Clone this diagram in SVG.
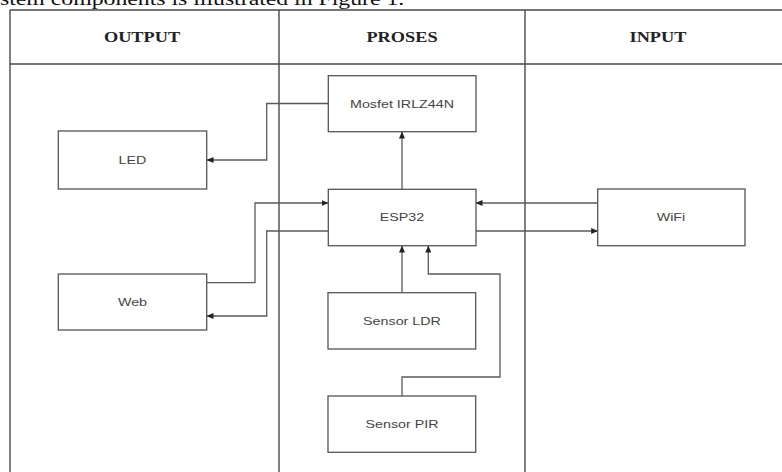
<svg xmlns="http://www.w3.org/2000/svg" width="782" height="472" viewBox="0 0 782 472">
<style>
.tbl{stroke:#4a4a4a;stroke-width:1.4;fill:none}
.box{fill:#fff;stroke:#555;stroke-width:1.3}
.con{fill:none;stroke:#5a5a5a;stroke-width:1.3}
.lbl{font-family:"Liberation Sans",Arial,sans-serif;font-size:11px;fill:#444;text-anchor:middle}
.hdr{font-family:"Liberation Serif","Times New Roman",serif;font-size:15px;font-weight:bold;fill:#222;text-anchor:middle}
.cap{font-family:"Liberation Serif","Times New Roman",serif;font-size:19px;fill:#111}
</style>
<defs>
<marker id="ah" markerWidth="7" markerHeight="6" refX="6.5" refY="3" orient="auto" markerUnits="userSpaceOnUse">
<path d="M0,0 L7,3 L0,6 Z" fill="#222"/>
</marker>
</defs>
<rect width="782" height="472" fill="#fff"/>
<text class="cap" transform="translate(0,5) scale(1.25,1)">stem components is illustrated in Figure 1.</text>
<g id="table">
<path class="tbl" d="M10,10 H782 M10,64 H782 M10,10 V472 M279,10 V472 M525,10 V472"/>
<text class="hdr" transform="translate(142,42) scale(1.22,1)">OUTPUT</text>
<text class="hdr" transform="translate(402,42) scale(1.22,1)">PROSES</text>
<text class="hdr" transform="translate(658,42) scale(1.22,1)">INPUT</text>
</g>
<g id="connectors">
<path class="con" marker-end="url(#ah)" d="M328,103.5 H266.7 V160 H207"/>
<path class="con" marker-end="url(#ah)" d="M402,189 V132"/>
<path class="con" marker-end="url(#ah)" d="M207,282.7 H255 V203 H328"/>
<path class="con" marker-end="url(#ah)" d="M328,231 H266.7 V316 H207"/>
<path class="con" marker-end="url(#ah)" d="M402,292.7 V246"/>
<path class="con" marker-end="url(#ah)" d="M402,396 V377 H500 V274 H428.3 V246"/>
<path class="con" marker-end="url(#ah)" d="M597.7,203 H476"/>
<path class="con" marker-end="url(#ah)" d="M476,231 H597.7"/>
</g>
<g id="mosfet">
<rect class="box" x="328.3" y="75.7" width="147.7" height="56"/>
<text class="lbl" transform="translate(402,107.5) scale(1.3,1)">Mosfet IRLZ44N</text>
</g>
<g id="led">
<rect class="box" x="58.3" y="131" width="148.4" height="58"/>
<text class="lbl" transform="translate(132.5,164) scale(1.3,1)">LED</text>
</g>
<g id="esp32">
<rect class="box" x="328.3" y="189.3" width="147.7" height="56.4"/>
<text class="lbl" transform="translate(402,221) scale(1.3,1)">ESP32</text>
</g>
<g id="wifi">
<rect class="box" x="597.7" y="189" width="147.3" height="56.7"/>
<text class="lbl" transform="translate(671,221) scale(1.3,1)">WiFi</text>
</g>
<g id="web">
<rect class="box" x="58.3" y="274" width="148.4" height="56"/>
<text class="lbl" transform="translate(132.5,305.5) scale(1.3,1)">Web</text>
</g>
<g id="ldr">
<rect class="box" x="328" y="292.7" width="147.7" height="56.3"/>
<text class="lbl" transform="translate(402,324.5) scale(1.3,1)">Sensor LDR</text>
</g>
<g id="pir">
<rect class="box" x="328" y="396" width="147.7" height="56.3"/>
<text class="lbl" transform="translate(402,428) scale(1.3,1)">Sensor PIR</text>
</g>
</svg>
